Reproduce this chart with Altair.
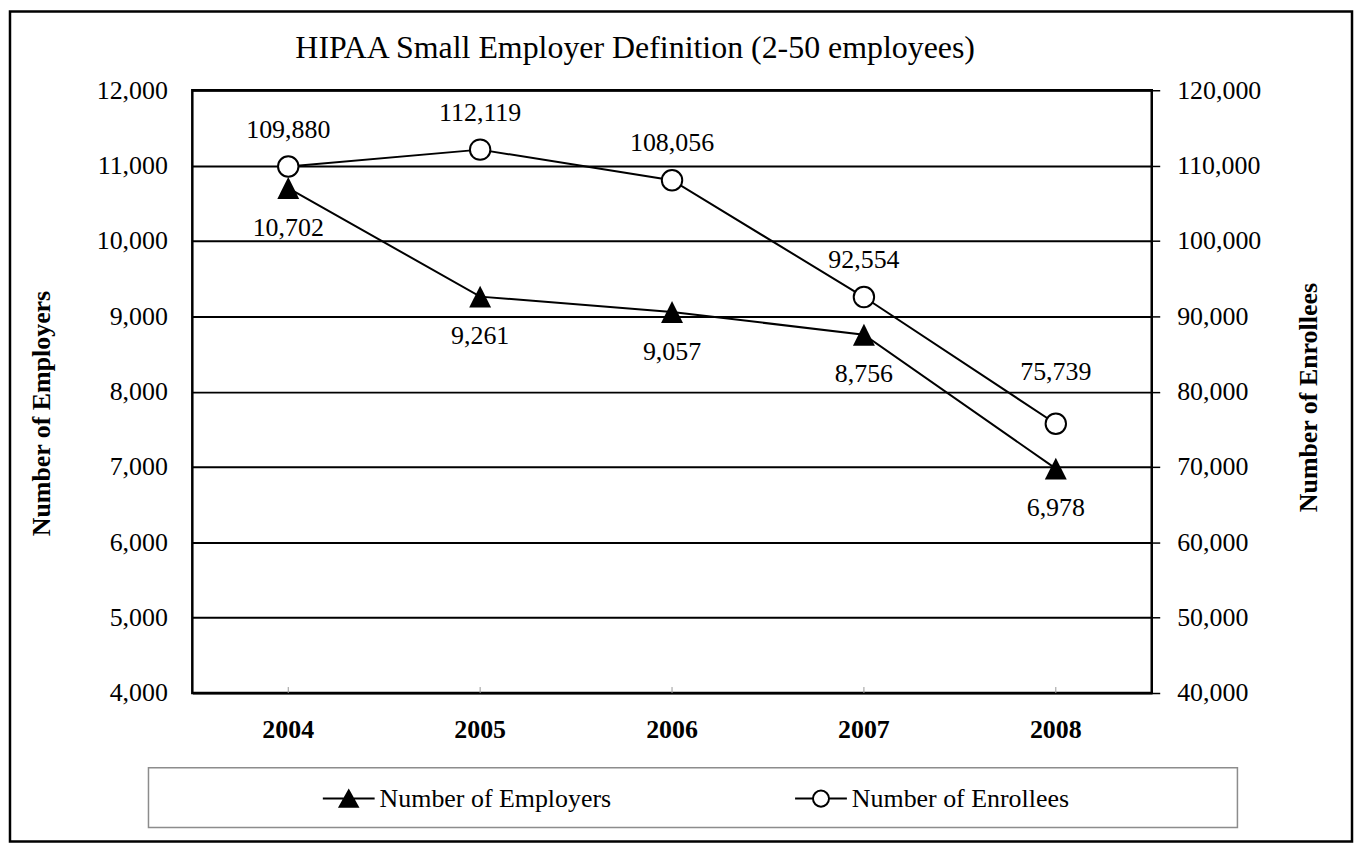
import altair as alt
import pandas as pd

# ---- data ----
years = ["2004", "2005", "2006", "2007", "2008"]
employers = [10702, 9261, 9057, 8756, 6978]
enrollees = [109880, 112119, 108056, 92554, 75739]
series_names = ["Number of Employers", "Number of Enrollees"]
left_ticks = [4000, 5000, 6000, 7000, 8000, 9000, 10000, 11000, 12000]
right_ticks = [40000, 50000, 60000, 70000, 80000, 90000, 100000, 110000, 120000]
title_text = "HIPAA Small Employer Definition (2-50 employees)"

df = pd.DataFrame({"year": years, "employers": employers, "enrollees": enrollees})
leg_df = pd.DataFrame({"series": series_names})
one = pd.DataFrame({"k": [0]})

FONT = "Liberation Serif"
W, H = 963, 605

# custom marker shapes
tri_path = "M0,-1L1,1L-1,1Z"
leg_tri = "M-1,0H1M0,-0.31L0.35,0.31L-0.35,0.31Z"
leg_circ = ("M-1,0H-0.31M0.31,0H1M-0.31,0A0.31,0.31 0 1,1 0.31,0"
            "A0.31,0.31 0 1,1 -0.31,0Z")

x_enc = alt.X("year:O", title=None,
              axis=alt.Axis(labelAngle=0, labelFontWeight="bold", labelFontSize=26,
                            labelPadding=24, ticks=False, domain=False))

y_left = alt.Y("employers:Q",
               scale=alt.Scale(domain=[4000, 12000], nice=False, zero=False),
               axis=alt.Axis(values=left_ticks, format=",d", title="Number of Employers",
                             grid=True, gridColor="black", gridWidth=2,
                             ticks=False, domain=False, labelPadding=25,
                             titleFontWeight="bold", titleFontSize=26,
                             titleAngle=270, titleBaseline="middle",
                             titleX=-151, titleY=324))

y_right = alt.Y("enrollees:Q",
                scale=alt.Scale(domain=[40000, 120000], nice=False, zero=False),
                axis=alt.Axis(values=right_ticks, format=",d", title="Number of Enrollees",
                              orient="right", grid=False, ticks=True, tickSize=8,
                              tickColor="black", tickWidth=1.5, domain=False,
                              labelPadding=17,
                              titleFontWeight="bold", titleFontSize=26,
                              titleAngle=270, titleBaseline="middle",
                              titleX=157, titleY=308))

base = alt.Chart(df)

emp_line = base.mark_line(color="black", strokeWidth=2).encode(x=x_enc, y=y_left)
emp_pts = base.mark_point(shape=tri_path, filled=True, fill="black", color="black",
                          size=484, opacity=1).encode(x=x_enc, y=y_left)
emp_lab = base.mark_text(font=FONT, fontSize=26, dy=40, color="black").encode(
    x=x_enc, y=y_left, text=alt.Text("employers:Q", format=","))
emp_layer = alt.layer(emp_line, emp_pts, emp_lab)

enr_line = base.mark_line(color="black", strokeWidth=2).encode(x=x_enc, y=y_right)
enr_pts = base.mark_point(shape="circle", filled=True, fill="white", stroke="black",
                          strokeWidth=2, size=420, opacity=1).encode(x=x_enc, y=y_right)
enr_lab = base.mark_text(font=FONT, fontSize=26, dy=-37, color="black").encode(
    x=x_enc, y=y_right, text=alt.Text("enrollees:Q", format=",")
).transform_filter(alt.datum.year != "2008")
enr_lab_last = base.mark_text(font=FONT, fontSize=26, dy=-52, color="black").encode(
    x=x_enc, y=y_right, text=alt.Text("enrollees:Q", format=",")
).transform_filter(alt.datum.year == "2008")
enr_layer = alt.layer(enr_line, enr_pts, enr_lab, enr_lab_last)

# decorations
frame = alt.Chart(one).mark_rect(fill="transparent", stroke="black", strokeWidth=2.5).encode(
    x=alt.value(-183), x2=alt.value(1164), y=alt.value(-79), y2=alt.value(754))
legend_box = alt.Chart(one).mark_rect(fill="transparent", stroke="#8c8c8c", strokeWidth=1.5).encode(
    x=alt.value(-44), x2=alt.value(1049), y=alt.value(680), y2=alt.value(740))
title = alt.Chart(one).mark_text(font=FONT, fontSize=32, color="black", align="center",
                                 baseline="alphabetic", text=title_text).encode(
    x=alt.value(444.5), y=alt.value(-32))
xticks = base.mark_rule(color="#999999", strokeWidth=1).encode(
    x=x_enc, y=alt.value(H), y2=alt.value(H - 6))
legend_pts = alt.Chart(leg_df).mark_point(filled=True, opacity=0, size=2704,
                                          strokeWidth=2).encode(
    x=alt.value(0), y=alt.value(0),
    shape=alt.Shape("series:N", scale=alt.Scale(domain=series_names, range=[leg_tri, leg_circ]),
                    legend=alt.Legend(title=None)),
    fill=alt.Fill("series:N", scale=alt.Scale(domain=series_names, range=["black", "white"]),
                  legend=alt.Legend(title=None)),
    stroke=alt.Stroke("series:N", scale=alt.Scale(domain=series_names, range=["black", "black"]),
                      legend=alt.Legend(title=None)),
)

chart = alt.layer(frame, legend_box, title, xticks, emp_layer, enr_layer, legend_pts).resolve_scale(
    y="independent"
).properties(width=W, height=H, padding=0, background="white").configure_view(
    stroke="black", strokeWidth=2.5
).configure_axis(
    labelFont=FONT, labelFontSize=26, labelColor="black", titleFont=FONT, titleColor="black"
).configure_legend(
    orient="none", legendX=130, legendY=684, direction="horizontal",
    labelFont=FONT, labelFontSize=26, labelColor="black", labelLimit=400,
    symbolSize=2704, symbolStrokeWidth=2, symbolStrokeColor="black", symbolOpacity=1,
    columnPadding=180, labelOffset=4, padding=0
)

chart.save("out.html", embed_options={"renderer": "svg", "actions": False})
